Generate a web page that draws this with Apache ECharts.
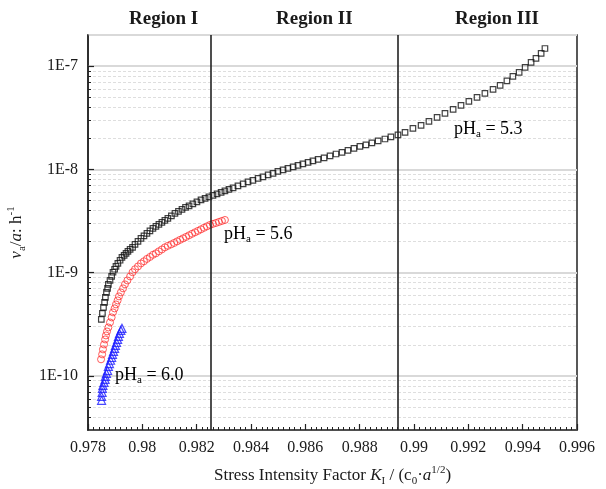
<!DOCTYPE html>
<html>
<head>
<meta charset="utf-8">
<script src="https://cdn.jsdelivr.net/npm/echarts@6/dist/echarts.min.js"></script>
<style>
html,body{margin:0;padding:0;background:#fff;}
#chart{width:606px;height:489px;}
</style>
</head>
<body>
<div id="chart"></div>
<script>
// pH_a = 5.3 (black squares)
var k53 = [0.97849,0.97853,0.97857,0.97861,0.97864,0.97868,0.97872,0.97875,0.97881,0.97887,
	0.97892,0.97898,0.97903,0.97910,0.97918,0.97925,0.97933,0.97940,0.97947,0.97955,
	0.97964,0.97973,0.97984,0.97995,0.98006,0.98017,0.98028,0.98039,0.98050,0.98061,
	0.98072,0.98083,0.98094,0.98107,0.98120,0.98133,0.98146,0.98159,0.98172,0.98186,
	0.98201,0.98216,0.98231,0.98245,0.98260,0.98275,0.98290,0.98304,0.98319,0.98334,
	0.98352,0.98371,0.98389,0.98407,0.98426,0.98444,0.98463,0.98481,0.98499,0.98518,
	0.98536,0.98555,0.98573,0.98591,0.98610,0.98628,0.98647,0.98669,0.98691,0.98713,
	0.98735,0.98757,0.98779,0.98801,0.98823,0.98845,0.98868,0.98893,0.98915,0.98941,
	0.98967,0.98996,0.99026,0.99055,0.99085,0.99114,0.99144,0.99173,0.99202,0.99232,
	0.99261,0.99291,0.99317,0.99342,0.99364,0.99387,0.99409,0.99431,0.99449,0.99468,0.99482];
var v53 = [3.53e-10,4.04e-10,4.61e-10,5.15e-10,5.77e-10,6.44e-10,7.05e-10,7.71e-10,8.41e-10,9.20e-10,
	1.01e-9,1.08e-9,1.15e-9,1.23e-9,1.32e-9,1.41e-9,1.47e-9,1.54e-9,1.61e-9,1.68e-9,
	1.76e-9,1.88e-9,2.01e-9,2.15e-9,2.27e-9,2.40e-9,2.54e-9,2.69e-9,2.81e-9,2.94e-9,
	3.07e-9,3.21e-9,3.36e-9,3.55e-9,3.75e-9,3.92e-9,4.10e-9,4.29e-9,4.43e-9,4.63e-9,
	4.84e-9,5.07e-9,5.24e-9,5.42e-9,5.60e-9,5.79e-9,5.98e-9,6.19e-9,6.40e-9,6.62e-9,
	6.92e-9,7.24e-9,7.57e-9,7.83e-9,8.18e-9,8.46e-9,8.85e-9,9.15e-9,9.57e-9,9.89e-9,
	1.023e-8,1.057e-8,1.094e-8,1.13e-8,1.17e-8,1.21e-8,1.25e-8,1.29e-8,1.35e-8,1.41e-8,
	1.46e-8,1.53e-8,1.60e-8,1.67e-8,1.73e-8,1.81e-8,1.89e-8,1.97e-8,2.06e-8,2.16e-8,
	2.28e-8,2.49e-8,2.67e-8,2.92e-8,3.19e-8,3.48e-8,3.81e-8,4.17e-8,4.55e-8,4.98e-8,
	5.44e-8,5.95e-8,6.51e-8,7.19e-8,7.95e-8,8.69e-8,9.71e-8,1.086e-7,1.187e-7,1.327e-7,1.48e-7];

// pH_a = 5.6 (red circles)
var k56 = [0.97848,0.97852,0.97855,0.97859,0.97863,0.97866,0.97870,0.97875,0.97881,0.97887,
	0.97892,0.97898,0.97903,0.97909,0.97914,0.97921,0.97929,0.97936,0.97945,0.97955,
	0.97964,0.97973,0.97984,0.97995,0.98006,0.98017,0.98028,0.98039,0.98050,0.98061,
	0.98072,0.98083,0.98094,0.98106,0.98117,0.98128,0.98139,0.98150,0.98161,0.98172,
	0.98183,0.98194,0.98205,0.98216,0.98227,0.98238,0.98249,0.98260,0.98271,0.98282,0.98293,0.98304];
var v56 = [1.45e-10,1.62e-10,1.81e-10,2.02e-10,2.26e-10,2.47e-10,2.70e-10,2.95e-10,3.30e-10,3.69e-10,
	4.13e-10,4.51e-10,4.93e-10,5.39e-10,5.90e-10,6.44e-10,7.05e-10,7.71e-10,8.41e-10,9.20e-10,
	1.01e-9,1.08e-9,1.15e-9,1.23e-9,1.29e-9,1.36e-9,1.42e-9,1.49e-9,1.54e-9,1.61e-9,
	1.68e-9,1.76e-9,1.82e-9,1.88e-9,1.94e-9,2.01e-9,2.08e-9,2.15e-9,2.22e-9,2.30e-9,
	2.38e-9,2.46e-9,2.54e-9,2.63e-9,2.72e-9,2.81e-9,2.90e-9,2.97e-9,3.03e-9,3.10e-9,3.17e-9,3.24e-9];

// pH_a = 6.0 (blue triangles)
var k60 = [0.97850,0.97850,0.97852,0.97853,0.97855,0.97859,0.97863,0.97864,0.97868,0.97872,
	0.97875,0.97879,0.97883,0.97887,0.97890,0.97894,0.97898,0.97901,0.97905,0.97909,
	0.97912,0.97916,0.97921,0.97925];
var v60 = [5.81e-11,6.34e-11,6.93e-11,7.59e-11,8.11e-11,8.67e-11,9.27e-11,9.91e-11,1.06e-10,1.13e-10,
	1.24e-10,1.32e-10,1.42e-10,1.51e-10,1.62e-10,1.73e-10,1.85e-10,1.98e-10,2.11e-10,2.26e-10,
	2.42e-10,2.58e-10,2.76e-10,2.89e-10];

// region boundaries on K axis
var regionBounds = [0.98253, 0.98941];
var regionNames = ['Region I', 'Region II', 'Region III'];

var xMin = 0.978, xMax = 0.996, xStep = 0.002;
var yMin = 3e-11, yMax = 2e-7;

function pairs(k, v) {
	var out = [];
	for (var i = 0; i < k.length; i++) out.push([k[i], v[i]]);
	return out;
}

// minor log ticks 2..9 x 10^n inside the range
var minorVals = [];
for (var e = -11; e <= -7; e++) {
	for (var m = 2; m <= 9; m++) {
		var val = parseFloat((m + 'e' + e));
		if (val > yMin * 1.001 && val < yMax * 0.999) minorVals.push(val);
	}
}

var serif = 'Liberation Serif';
var txt = '#1a1a1a';

var chart = echarts.init(document.getElementById('chart'));

var richAx = {
	n: {fontFamily: serif, fontSize: 17, color: txt, lineHeight: 22},
	i: {fontFamily: serif, fontSize: 17, color: txt, fontStyle: 'italic', lineHeight: 22},
	sub: {fontFamily: serif, fontSize: 11, color: txt, verticalAlign: 'bottom', lineHeight: 12},
	sup: {fontFamily: serif, fontSize: 11, color: txt, verticalAlign: 'top', lineHeight: 12}
};

var richPh = {
	n: {fontFamily: serif, fontSize: 18, color: txt, lineHeight: 22},
	sub: {fontFamily: serif, fontSize: 11, color: txt, verticalAlign: 'bottom', lineHeight: 12}
};

function phText(label, x, y) {
	return {
		type: 'text', left: x, top: y, z: 10,
		style: {
			text: '{n|pH}{sub|a}{n| = ' + label + '}',
			rich: richPh
		}
	};
}

function regionText(name, x) {
	return {
		type: 'text', left: x, top: 10,
		style: {text: name, fontFamily: serif, fontSize: 19, fontWeight: 'bold', fill: txt}
	};
}

var option = {
	animation: false,
	backgroundColor: '#fff',
	grid: {
		left: 88, right: 29, top: 35, bottom: 59,
		outerBoundsMode: 'none',
		containLabel: false,
		show: true,
		borderColor: '#222',
		borderWidth: 1.5,
		backgroundColor: 'transparent'
	},
	xAxis: {
		type: 'value',
		min: xMin, max: xMax, interval: xStep,
		name: '{n|Stress Intensity Factor }{i|K}{sub|I}{n| / (c}{sub|0}{n|·}{i|a}{sup|1/2}{n|)}',
		nameLocation: 'middle',
		nameGap: 35,
		nameTextStyle: {rich: richAx},
		axisLine: {lineStyle: {color: '#222', width: 1.5}},
		axisTick: {inside: true, length: 6, lineStyle: {color: '#222', width: 1.2}},
		minorTick: {show: true, splitNumber: 10, length: 3, lineStyle: {color: '#222', width: 1}},
		splitLine: {show: false},
		axisLabel: {
			margin: 10,
			fontFamily: serif, fontSize: 16, color: txt,
			formatter: function (v) { return String(parseFloat(v.toFixed(3))); }
		}
	},
	yAxis: [{
		type: 'log', logBase: 10,
		min: yMin, max: yMax,
		name: '{i|v}{sub|a}{n|/}{i|a}{n|: h}{sup|-1}',
		nameLocation: 'middle',
		nameRotate: 90,
		nameGap: 47,
		nameTextStyle: {rich: richAx},
		axisLine: {lineStyle: {color: '#222', width: 1.5}},
		axisTick: {inside: true, length: 6, lineStyle: {color: '#222', width: 1.2}},
		splitLine: {show: true, lineStyle: {color: '#d9d9d9', width: 2}},
		axisLabel: {
			margin: 10,
			showMinLabel: false, showMaxLabel: false,
			fontFamily: serif, fontSize: 16, color: txt,
			formatter: function (v) { return '1E' + Math.round(Math.log10(v)); }
		}
	}, {
		type: 'log', logBase: 10,
		min: yMin, max: yMax,
		position: 'left',
		axisLine: {show: false},
		axisLabel: {show: false},
		axisTick: {show: true, inside: true, length: 3, customValues: minorVals,
			lineStyle: {color: '#222', width: 1}},
		splitLine: {show: true, lineStyle: {color: '#dedede', width: 1, type: [3, 2]}}
	}],
	series: [{
		name: 'pHa = 5.3',
		type: 'scatter',
		symbol: 'rect',
		symbolSize: 5.5,
		itemStyle: {color: 'rgba(0,0,0,0)', borderColor: '#111', borderWidth: 1.2},
		data: pairs(k53, v53),
		z: 4,
		markLine: {
			silent: true,
			symbol: 'none',
			precision: 6,
			label: {show: false},
			lineStyle: {color: '#222', width: 1.6, type: 'solid'},
			data: regionBounds.map(function (b) { return {xAxis: b}; })
		}
	}, {
		name: 'pHa = 5.6',
		type: 'scatter',
		symbol: 'circle',
		symbolSize: 7,
		itemStyle: {color: 'rgba(0,0,0,0)', borderColor: '#f33', borderWidth: 1},
		data: pairs(k56, v56),
		z: 3
	}, {
		name: 'pHa = 6.0',
		type: 'scatter',
		symbol: 'triangle',
		symbolSize: 8,
		itemStyle: {color: 'rgba(0,0,0,0)', borderColor: '#1d1dff', borderWidth: 1.2},
		data: pairs(k60, v60),
		z: 3
	}],
	graphic: [
		regionText(regionNames[0], 129),
		regionText(regionNames[1], 276),
		regionText(regionNames[2], 455),
		phText('5.3', 454, 120),
		phText('5.6', 224, 225),
		phText('6.0', 115, 366)
	]
};

chart.setOption(option);
</script>
</body>
</html>
